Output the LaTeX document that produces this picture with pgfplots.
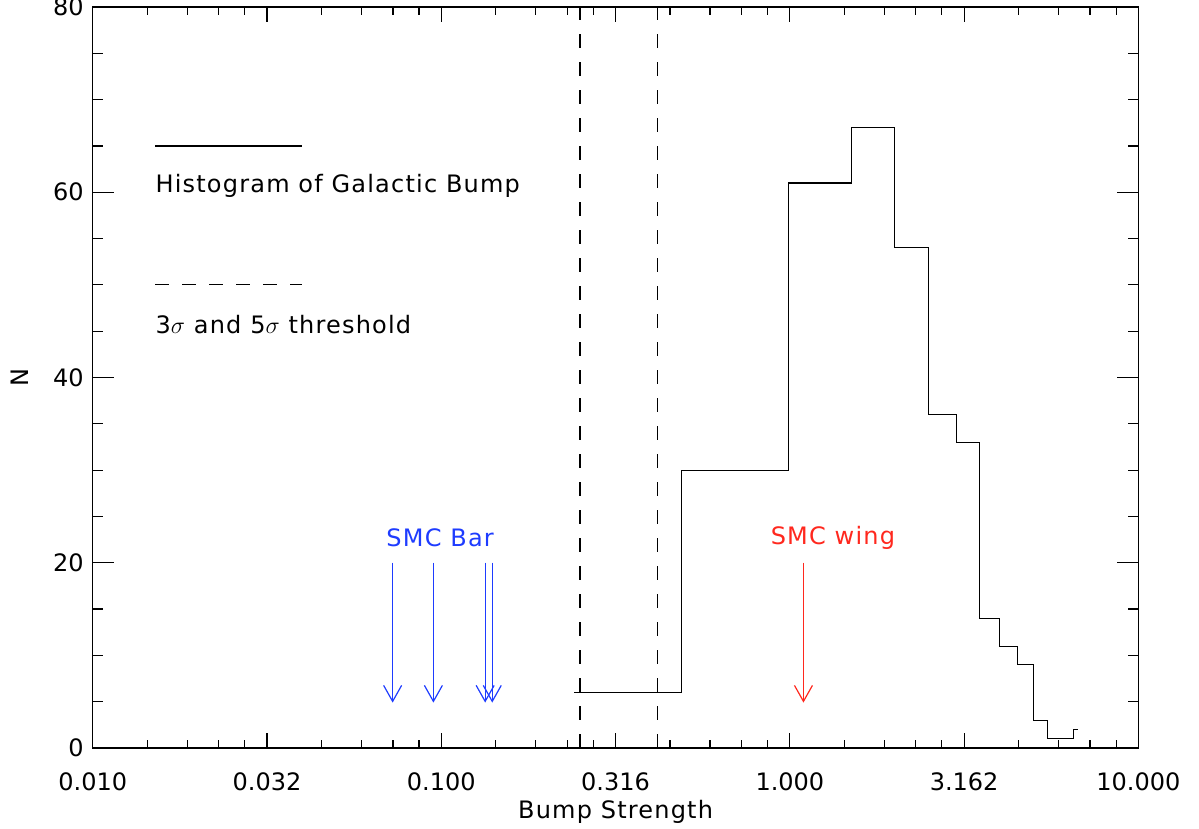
\documentclass[border=0pt]{standalone}
\usepackage{pgfplots}
\pgfplotsset{compat=1.18}
\usepackage{fontspec}
\setmainfont{DejaVu Sans}
\newfontfamily\spaced{DejaVu Sans}[LetterSpace=5]
\usetikzlibrary{arrows.meta}
\definecolor{idlblue}{RGB}{30,60,255}
\definecolor{idlred}{RGB}{255,40,30}
\begin{document}
\begin{tikzpicture}
\begin{axis}[
  scale only axis, width=522.8pt, height=370.5pt,
  xmode=log, log basis x=10,
  xmin=0.01, xmax=10, ymin=0, ymax=80,
  xtick={0.01,0.0316228,0.1,0.316228,1,3.16228,10},
  xticklabels={0.010,0.032,0.100,0.316,1.000,3.162,10.000},
  minor xtick={0.014325,0.018649,0.022974,0.027298,
               0.045298,0.058973,0.072648,0.086324,
               0.14325,0.18649,0.22974,0.27298,
               0.45298,0.58973,0.72648,0.86324,
               1.4325,1.8649,2.2974,2.7298,
               4.5298,5.8973,7.2648,8.6324},
  ytick={0,20,40,60,80},
  minor ytick={5,10,15,25,30,35,45,50,55,65,70,75},
  tick align=inside,
  major x tick style={/pgfplots/major tick length=7.5pt},
  minor x tick style={/pgfplots/minor tick length=3.9pt},
  major y tick style={/pgfplots/major tick length=10.5pt},
  minor y tick style={/pgfplots/minor tick length=5.3pt},
  every tick/.append style={black, line width=0.6pt},
  axis line style={line width=0.6pt},
  /pgf/number format/assume math mode=true,
  font=\fontsize{12}{14}\selectfont,
  xticklabel style={yshift=-9pt},
  yticklabel style={xshift=-1pt},
  xlabel={\spaced Bump Strength},
  ylabel={N},
  xlabel style={at={(axis description cs:0.5,-0.0865)}, anchor=center},
  ylabel style={at={(axis description cs:-0.0695,0.5)}, anchor=center},
]
% histogram (steps)
\addplot[const plot mark left, black, line width=0.6pt] coordinates {
  (0.2405,6) (0.49,30) (0.99,61) (1.5,67) (2.0,54) (2.5,36) (3.0,33)
  (3.5,14) (4.0,11) (4.5,9) (5.0,3) (5.5,1) (6.5,2) (6.72,2)};
% thresholds
\addplot[black, line width=0.6pt, dash pattern=on 7pt off 7pt] coordinates {(0.25,0) (0.25,80)};
\addplot[black, line width=0.6pt, dash pattern=on 7pt off 7pt] coordinates {(0.4168,0) (0.4168,80)};
% legend samples
\addplot[black, line width=0.6pt] coordinates {(0.0151,65) (0.0399,65)};
\addplot[black, line width=0.6pt, dash pattern=on 7pt off 6.5pt] coordinates {(0.0151,50) (0.0399,50)};
\node[anchor=west, inner sep=0pt] at (axis cs:0.0151,60.7) {\spaced Histogram of Galactic Bump};
\node[anchor=west, inner sep=0pt] at (axis cs:0.0151,45.7) {\spaced 3$\sigma$ and 5$\sigma$ threshold};
% SMC Bar arrows
\addplot[idlblue, line width=0.6pt, -{Straight Barb[length=8pt,width=9pt]}] coordinates {(0.0725,20) (0.0725,4.9)};
\addplot[idlblue, line width=0.6pt, -{Straight Barb[length=8pt,width=9pt]}] coordinates {(0.0949,20) (0.0949,4.9)};
\addplot[idlblue, line width=0.6pt, -{Straight Barb[length=8pt,width=9pt]}] coordinates {(0.1336,20) (0.1336,4.9)};
\addplot[idlblue, line width=0.6pt, -{Straight Barb[length=8pt,width=9pt]}] coordinates {(0.1400,20) (0.1400,4.9)};
\node[idlblue, inner sep=0pt] at (axis cs:0.0992,22.7) {\spaced SMC Bar};
% SMC wing arrow
\addplot[idlred, line width=0.6pt, -{Straight Barb[length=8pt,width=9pt]}] coordinates {(1.094,20) (1.094,4.9)};
\node[idlred, inner sep=0pt] at (axis cs:1.329,22.7) {\spaced SMC wing};
\end{axis}
\pgfresetboundingbox
\path (current axis.south west) ++(-46.4pt,-40.5pt) rectangle ++(599.5pt,414.5pt);
\end{tikzpicture}
\end{document}
